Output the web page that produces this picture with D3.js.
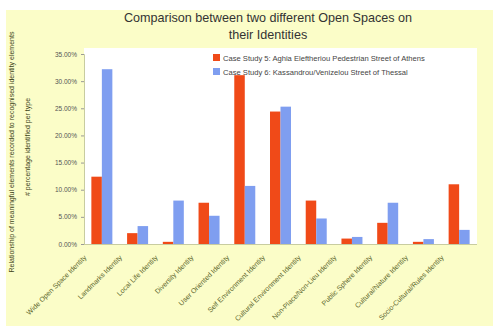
<!DOCTYPE html>
<html><head><meta charset="utf-8">
<script src="https://cdn.jsdelivr.net/npm/d3@7"></script>
<style>body{margin:0;background:#fff}svg{display:block}text{font-family:"Liberation Sans",Arial,sans-serif}</style>
</head><body><svg id="c" width="493" height="328"></svg>
<script>
const categories = ["Wide Open Space Identity","Landmarks Identity","Local Life Identity","Diversity Identity","User Oriented Identity","Self Environment Identity","Cultural Environment Identity","Non-Place/Non-Lieu Identity","Public Sphere Identity","Cultural/Nature Identity","Socio-Cultural/Rules Identity"];
const seriesNames = ["Case Study 5: Aghia Eleftheriou Pedestrian Street of Athens","Case Study 6: Kassandrou/Venizelou Street of Thessal"];
const athens = [12.4, 2.0, 0.4, 7.6, 31.1, 24.4, 8.0, 1.0, 3.9, 0.4, 11.0];
const thessal = [32.2, 3.3, 8.0, 5.2, 10.7, 25.3, 4.7, 1.3, 7.6, 0.9, 2.6];
const yTicks = [0,5,10,15,20,25,30,35];
const colors = ["#f04a18","#7f9ef0"];
const titleLines = ["Comparison between two different Open Spaces on","their Identities"];
const yTitle = ["Relationship of meaningful elements recorded to recognised identity elements","# percentage identified per type"];

const svg = d3.select("#c");
svg.append("rect").attr("x",6).attr("y",10).attr("width",487).attr("height",316).attr("fill","#fbfdc8");
const L=84,R=477,T=48,B=245;
svg.append("rect").attr("x",L).attr("y",T).attr("width",R-L).attr("height",B-T).attr("fill","#fff");
const x = d3.scaleBand().domain(categories).range([L,R]).padding(0);
const y = d3.scaleLinear().domain([0,35]).range([244,54]);
const x1 = d3.scaleBand().domain([0,1]).range([0,21]);

titleLines.forEach((t,i)=>svg.append("text").attr("x",268).attr("y",22+i*17).attr("text-anchor","middle").attr("font-size",12.6).attr("fill","#333").text(t));

// y axis
const ya = svg.append("g").attr("transform",`translate(${L},0)`).call(d3.axisLeft(y).tickValues(yTicks).tickSize(3).tickFormat(d=>d3.format(".2f")(d)+"%"));
ya.select(".domain").attr("stroke","#c8cca0");
ya.selectAll(".tick line").attr("stroke","#999");
ya.selectAll("text").attr("font-size",6.5).attr("fill","#555").attr("x",-7);

// x axis line
svg.append("line").attr("x1",L).attr("x2",R).attr("y1",y(0)+0.5).attr("y2",y(0)+0.5).attr("stroke","#c8cca0");

// bars
const series=[athens,thessal];
series.forEach((s,si)=>{
  svg.append("g").selectAll("rect").data(s).join("rect")
    .attr("x",(d,i)=>x(categories[i])+x.bandwidth()/2-10.5+x1(si))
    .attr("width",x1.bandwidth())
    .attr("y",d=>y(d)).attr("height",d=>y(0)-y(d))
    .attr("fill",colors[si]);
});

// x labels
svg.append("g").selectAll("text").data(categories).join("text")
  .attr("transform",d=>`translate(${x(d)+x.bandwidth()/2-15},${258}) rotate(-45)`)
  .attr("text-anchor","end").attr("font-size",7).attr("fill","#5a6428").text(d=>d);

// y title
yTitle.forEach((t,i)=>svg.append("text").attr("transform",`translate(${14+i*16},${[152,147][i]}) rotate(-90)`)
  .attr("text-anchor","middle").attr("font-size",7).attr("fill","#3d4418").text(t));

// legend
seriesNames.forEach((n,i)=>{
  svg.append("rect").attr("x",213).attr("y",54+i*14).attr("width",7).attr("height",7).attr("fill",colors[i]);
  svg.append("text").attr("x",223).attr("y",60.5+i*14).attr("font-size",7.6).attr("fill","#444").text(n);
});
</script></body></html>
